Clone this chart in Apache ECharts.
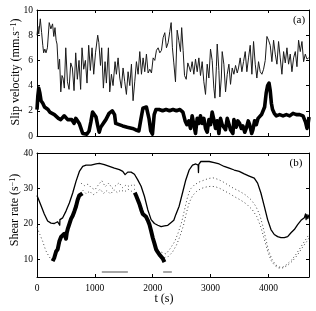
<!DOCTYPE html>
<html><head><meta charset="utf-8">
<script src="https://cdn.jsdelivr.net/npm/echarts@6/dist/echarts.min.js"></script>
<style>html,body{margin:0;padding:0;background:#fff}#c{width:316px;height:311px}</style>
</head><body><div id="c"></div>
<script>
// ---- data (t in s) ----
var slipThin = [[0,8.0],[15,8.7],[30,8.1],[57,9.3],[80,8.2],[100,7.2],[115,6.6],[135,6.9],[155,6.6],[180,7.0],[211,9.0],[240,8.5],[269,8.9],[290,7.9],[311,8.6],[330,7.6],[346,7.3],[369,5.3],[390,6.1],[411,3.5],[432,4.8],[450,4.6],[472,3.8],[497,7.0],[526,4.3],[554,3.7],[583,5.8],[611,5.4],[640,3.6],[669,6.6],[697,4.5],[726,6.0],[754,3.7],[778,7.0],[807,5.3],[836,6.0],[864,4.2],[893,7.2],[922,5.2],[951,7.0],[980,4.9],[1011,6.6],[1049,8.0],[1069,7.4],[1097,5.6],[1118,7.0],[1147,3.8],[1176,5.9],[1199,4.2],[1234,7.0],[1257,3.5],[1286,4.9],[1314,4.0],[1349,5.9],[1372,4.9],[1401,6.2],[1430,4.6],[1458,3.8],[1487,5.4],[1516,4.3],[1545,3.3],[1574,5.1],[1603,4.0],[1632,5.7],[1660,2.8],[1689,4.3],[1718,5.9],[1747,4.9],[1776,6.7],[1805,4.9],[1833,6.2],[1862,5.1],[1891,6.5],[1920,5.0],[1949,5.3],[1978,5.0],[2007,6.2],[2035,6.0],[2064,6.8],[2093,7.0],[2122,6.6],[2151,6.8],[2179,7.8],[2208,8.2],[2237,7.0],[2266,7.4],[2295,8.3],[2318,9.0],[2340,7.0],[2364,5.8],[2393,4.3],[2422,8.4],[2450,7.6],[2479,6.7],[2500,8.6],[2525,6.8],[2549,4.8],[2578,4.5],[2606,5.8],[2635,5.4],[2652,5.1],[2681,5.9],[2710,4.9],[2739,6.1],[2768,5.1],[2797,6.2],[2825,4.8],[2854,5.9],[2883,4.3],[2912,3.3],[2941,5.7],[2970,4.6],[2998,6.9],[3027,6.0],[3056,3.8],[3075,3.0],[3100,5.5],[3114,7.3],[3143,5.2],[3160,3.1],[3185,4.6],[3200,6.7],[3229,5.7],[3258,3.5],[3287,4.9],[3316,5.7],[3344,4.1],[3373,5.4],[3402,4.9],[3431,5.6],[3460,5.0],[3482,5.4],[3511,6.2],[3540,5.1],[3569,5.9],[3598,6.7],[3626,5.1],[3655,6.2],[3684,7.2],[3713,4.9],[3742,7.5],[3771,5.7],[3799,4.6],[3828,5.9],[3857,5.1],[3886,4.9],[3915,5.3],[3944,6.0],[3973,7.9],[4001,7.6],[4030,7.2],[4059,5.9],[4088,7.6],[4117,6.5],[4146,5.7],[4174,7.5],[4203,6.2],[4232,4.9],[4261,6.7],[4290,5.8],[4319,7.0],[4347,5.7],[4376,6.5],[4405,5.1],[4434,6.2],[4463,6.7],[4492,5.5],[4520,7.6],[4549,6.7],[4578,7.5],[4607,5.9],[4636,6.5],[4665,6.1],[4694,6.2]];

var slipThick = [[0,2.1],[15,3.2],[30,3.8],[50,3.4],[70,2.8],[100,2.6],[130,2.3],[160,2.4],[190,2.1],[220,1.9],[260,1.8],[300,1.7],[330,1.6],[370,1.4],[410,1.3],[440,1.4],[470,1.6],[500,1.7],[530,1.3],[560,1.2],[600,1.3],[640,1.0],[670,1.4],[700,1.2],[730,1.0],[760,0.6],[790,0.2],[820,0.1],[860,0.15],[900,0.4],[930,1.1],[960,1.9],[990,2.0],[1020,1.5],[1050,0.8],[1075,0.3],[1100,0.7],[1130,0.9],[1160,1.1],[1190,1.3],[1245,1.8],[1300,2.0],[1340,1.7],[1360,1.0],[1420,0.9],[1480,0.8],[1560,0.7],[1650,0.6],[1700,0.5],[1760,0.4],[1790,1.2],[1830,2.2],[1890,2.3],[1935,1.4],[1965,0.4],[1995,0.15],[2025,1.7],[2055,2.1],[2080,2.0],[2110,2.1],[2170,2.0],[2230,2.1],[2290,2.0],[2350,2.1],[2410,2.0],[2470,2.1],[2520,1.9],[2560,1.2],[2590,0.9],[2624,1.2],[2652,0.6],[2681,1.6],[2710,0.9],[2739,0.2],[2768,1.4],[2800,1.0],[2825,1.6],[2854,1.0],[2883,1.4],[2912,0.6],[2941,0.3],[2970,1.3],[2998,0.9],[3027,1.9],[3056,1.3],[3085,0.6],[3114,1.2],[3143,0.2],[3171,1.4],[3200,0.9],[3229,1.0],[3258,0.5],[3287,1.4],[3320,0.9],[3344,0.5],[3385,0.2],[3402,1.3],[3443,0.7],[3470,1.2],[3501,1.0],[3530,0.6],[3558,0.8],[3590,0.3],[3616,0.6],[3650,1.2],[3674,0.9],[3710,0.2],[3731,0.5],[3760,1.2],[3789,0.9],[3820,1.4],[3847,1.3],[3880,1.7],[3904,1.8],[3933,2.3],[3960,3.4],[3985,4.0],[4009,4.2],[4030,3.6],[4050,2.6],[4070,2.1],[4100,1.8],[4135,1.6],[4193,1.7],[4251,1.6],[4308,1.7],[4366,1.6],[4424,1.8],[4481,1.7],[4539,1.7],[4597,1.6],[4640,1.1],[4666,0.6],[4685,1.0],[4700,1.5]];

var shearSolid = [[0,28.0],[11,27.8],[69,25.2],[126,22.8],[184,20.8],[242,20.2],[299,20.1],[357,20.6],[390,21.1],[393,19.6],[396,21.2],[444,21.7],[501,23.6],[559,25.9],[617,28.7],[674,32.0],[732,34.8],[790,36.2],[847,36.6],[934,36.6],[1020,36.9],[1078,37.1],[1107,37.1],[1164,36.7],[1251,36.2],[1337,35.7],[1424,35.3],[1482,34.8],[1522,33.9],[1568,34.6],[1626,34.6],[1684,34.0],[1741,32.4],[1799,30.6],[1856,27.8],[1914,24.0],[1972,21.2],[2029,20.1],[2087,19.6],[2145,19.2],[2202,19.4],[2260,19.6],[2318,20.4],[2364,21.0],[2398,22.6],[2456,25.0],[2514,28.7],[2571,32.4],[2629,35.2],[2687,36.6],[2744,36.9],[2785,36.6],[2790,34.5],[2795,36.8],[2831,37.6],[2889,37.6],[2975,37.6],[3062,37.3],[3148,36.9],[3235,36.2],[3321,35.7],[3408,35.2],[3494,34.8],[3581,34.1],[3667,33.5],[3754,32.9],[3812,31.5],[3869,28.7],[3927,25.0],[3985,21.2],[4043,18.4],[4100,17.0],[4158,16.4],[4215,16.1],[4273,16.1],[4331,16.4],[4389,17.5],[4446,18.4],[4504,19.8],[4562,21.0],[4619,21.7],[4640,22.8],[4650,21.2],[4665,22.6],[4680,21.5],[4700,22.6]];

var dotsEarly = [[0,19.0],[50,17.0],[100,15.0],[150,12.5],[200,11.0],[250,9.8]];
var cloudA = [[760,31.5],[820,30.8],[880,31.2],[940,30.2],[1000,29.6],[1060,31.0],[1120,32.2],[1180,30.5],[1240,31.5],[1300,30.0],[1360,30.8],[1420,31.6],[1480,30.2],[1540,31.0],[1600,30.5],[1660,31.2],[1720,30.5]];
var cloudB = [[790,29.5],[850,28.5],[910,29.2],[970,28.2],[1030,28.8],[1090,29.8],[1150,28.6],[1210,29.4],[1270,28.4],[1330,29.6],[1390,28.8],[1450,29.6],[1510,29.0],[1570,29.8],[1630,29.2],[1690,29.8]];
var dotsUp = [[2150,12.0],[2230,11.5],[2300,13.0],[2380,15.0],[2440,17.5],[2500,20.5],[2550,24.0],[2600,27.5],[2650,29.8],[2720,31.0],[2800,31.8],[2880,32.3],[2960,32.8],[3040,33.0],[3120,32.6],[3200,32.0],[3300,31.0],[3400,30.0],[3500,29.2],[3600,28.2],[3700,26.8],[3780,25.0],[3850,22.5],[3900,19.5],[3950,16.0],[4000,12.5],[4060,10.0],[4120,8.5],[4180,7.8],[4250,7.8],[4320,8.6],[4400,9.8],[4480,11.5],[4560,13.5],[4640,15.5],[4700,17.0]];
var dotsLow = [[2200,10.5],[2270,10.8],[2340,12.0],[2410,14.0],[2470,16.5],[2530,19.5],[2580,23.0],[2630,26.0],[2690,28.0],[2760,29.2],[2840,30.0],[2920,30.4],[3000,30.6],[3080,30.5],[3160,30.0],[3240,29.3],[3330,28.5],[3420,27.6],[3520,26.7],[3620,25.6],[3720,24.0],[3800,22.0],[3870,19.0],[3930,15.5],[3990,12.0],[4050,9.5],[4110,8.2],[4180,7.5],[4260,7.6],[4340,8.4],[4420,9.6],[4500,11.2],[4580,13.2],[4660,15.0],[4700,16.0]];

var shearThick1 = [[270,9.5],[300,10.5],[330,12.2],[357,12.8],[385,15.0],[415,16.3],[444,16.8],[472,17.2],[490,16.5],[501,15.8],[515,17.5],[530,18.5],[560,20.0],[588,21.4],[617,22.3],[645,23.5],[674,24.9],[703,26.8],[730,28.0],[761,28.3],[785,28.6]];
var shearThick2 = [[1690,28.8],[1712,28.0],[1741,26.8],[1770,25.6],[1800,24.0],[1828,22.8],[1856,22.3],[1885,22.0],[1914,21.0],[1943,19.8],[1972,18.0],[2001,16.0],[2029,14.5],[2058,12.8],[2087,12.0],[2116,11.3],[2145,10.8],[2174,10.2],[2202,9.2]];

var greyBar1 = [[1120,6.4],[1570,6.4]];
var greyBar2 = [[2180,6.4],[2330,6.4]];

var xTicks = {min:0, max:4700, interval:1000};
var slipAxis = {min:0, max:10, interval:2};
var shearAxis = {min:5, max:40, splitNumber:4};

// ---- chart ----
var FONT = 'Liberation Serif';
var chart = echarts.init(document.getElementById('c'), null, {renderer:'canvas'});
function xa(grid, pos, labels){
  return {type:'value', gridIndex:grid, position:pos, min:xTicks.min, max:xTicks.max, interval:xTicks.interval,
    axisLine:{show:true, onZero:false, lineStyle:{color:'#000', width:1}},
    axisTick:{show:true, inside:true, length:3, lineStyle:{color:'#000'}},
    axisLabel:{show:labels, color:'#000', fontFamily:FONT, fontSize:9.5, margin:6, showMaxLabel:false,
      formatter:function(v){ return String(v); }},
    splitLine:{show:false}};
}
function ya(grid, pos, labels, cfg){
  var o = {type:'value', gridIndex:grid, position:pos, min:cfg.min, max:cfg.max,
    axisLine:{show:true, onZero:false, lineStyle:{color:'#000', width:1}},
    axisTick:{show:true, inside:true, length:3, lineStyle:{color:'#000'}},
    axisLabel:{show:labels, color:'#000', fontFamily:FONT, fontSize:9.5, margin:4,
      formatter:function(v){ return v===5 ? '' : String(v); }},
    splitLine:{show:false}};
  if (cfg.interval) o.interval = cfg.interval;
  if (cfg.splitNumber) o.splitNumber = cfg.splitNumber;
  return o;
}
function line(xi, yi, data, color, width, dash, z){
  return {type:'line', xAxisIndex:xi, yAxisIndex:yi, data:data, showSymbol:false, symbol:'none',
    animation:false, silent:true, z:z||2,
    lineStyle:{color:color, width:width, type:dash||'solid', join:'round'}};
}
var dot = [1, 2.6];
chart.setOption({
  animation:false,
  grid:[{left:37, top:10, width:272, height:126},{left:37, top:153, width:272, height:124}],
  xAxis:[xa(0,'bottom',false), xa(0,'top',false), xa(1,'bottom',true), xa(1,'top',false)],
  yAxis:[ya(0,'left',true,slipAxis), ya(0,'right',false,slipAxis), ya(1,'left',true,shearAxis), ya(1,'right',false,shearAxis)],
  series:[
    line(0,0,slipThin,'#1a1a1a',1),
    line(0,0,slipThick,'#000',3.6,null,3),
    line(2,2,dotsEarly,'#444',1,dot),
    line(2,2,cloudA,'#444',1,dot),
    line(2,2,cloudB,'#444',1,dot),
    line(2,2,dotsUp,'#444',1,dot),
    line(2,2,dotsLow,'#444',1,dot),
    line(2,2,shearSolid,'#000',1.3,null,3),
    line(2,2,shearThick1,'#000',4,null,4),
    line(2,2,shearThick2,'#000',4,null,4),
    line(2,2,greyBar1,'#888',1.5),
    line(2,2,greyBar2,'#888',1.5)
  ],
  graphic:[
    {type:'text', x:16, y:72, rotation:Math.PI/2, style:{text:'{a|Slip velocity (mm.s}{b|−1}{a|)}', align:'center', verticalAlign:'middle', textAlign:'center', textVerticalAlign:'middle',
      rich:{a:{fontFamily:FONT, fontSize:12, fill:'#000', color:'#000'}, b:{fontFamily:FONT, fontSize:8, fill:'#000', color:'#000', verticalAlign:'top'}}}},
    {type:'text', x:15, y:210, rotation:Math.PI/2, style:{text:'{a|Shear rate (s}{b|−1}{a|)}', align:'center', verticalAlign:'middle', textAlign:'center', textVerticalAlign:'middle',
      rich:{a:{fontFamily:FONT, fontSize:12, fill:'#000', color:'#000'}, b:{fontFamily:FONT, fontSize:8, fill:'#000', color:'#000', verticalAlign:'top'}}}},
    {type:'text', x:164, y:299, style:{text:'t (s)', font:'12px "Liberation Serif"', fill:'#000', align:'center', verticalAlign:'middle', textAlign:'center', textVerticalAlign:'middle'}},
    {type:'text', x:299, y:20, style:{text:'(a)', font:'11px "Liberation Serif"', fill:'#000', align:'center', verticalAlign:'middle', textAlign:'center', textVerticalAlign:'middle'}},
    {type:'text', x:296, y:163, style:{text:'(b)', font:'11px "Liberation Serif"', fill:'#000', align:'center', verticalAlign:'middle', textAlign:'center', textVerticalAlign:'middle'}}
  ]
});
</script></body></html>
